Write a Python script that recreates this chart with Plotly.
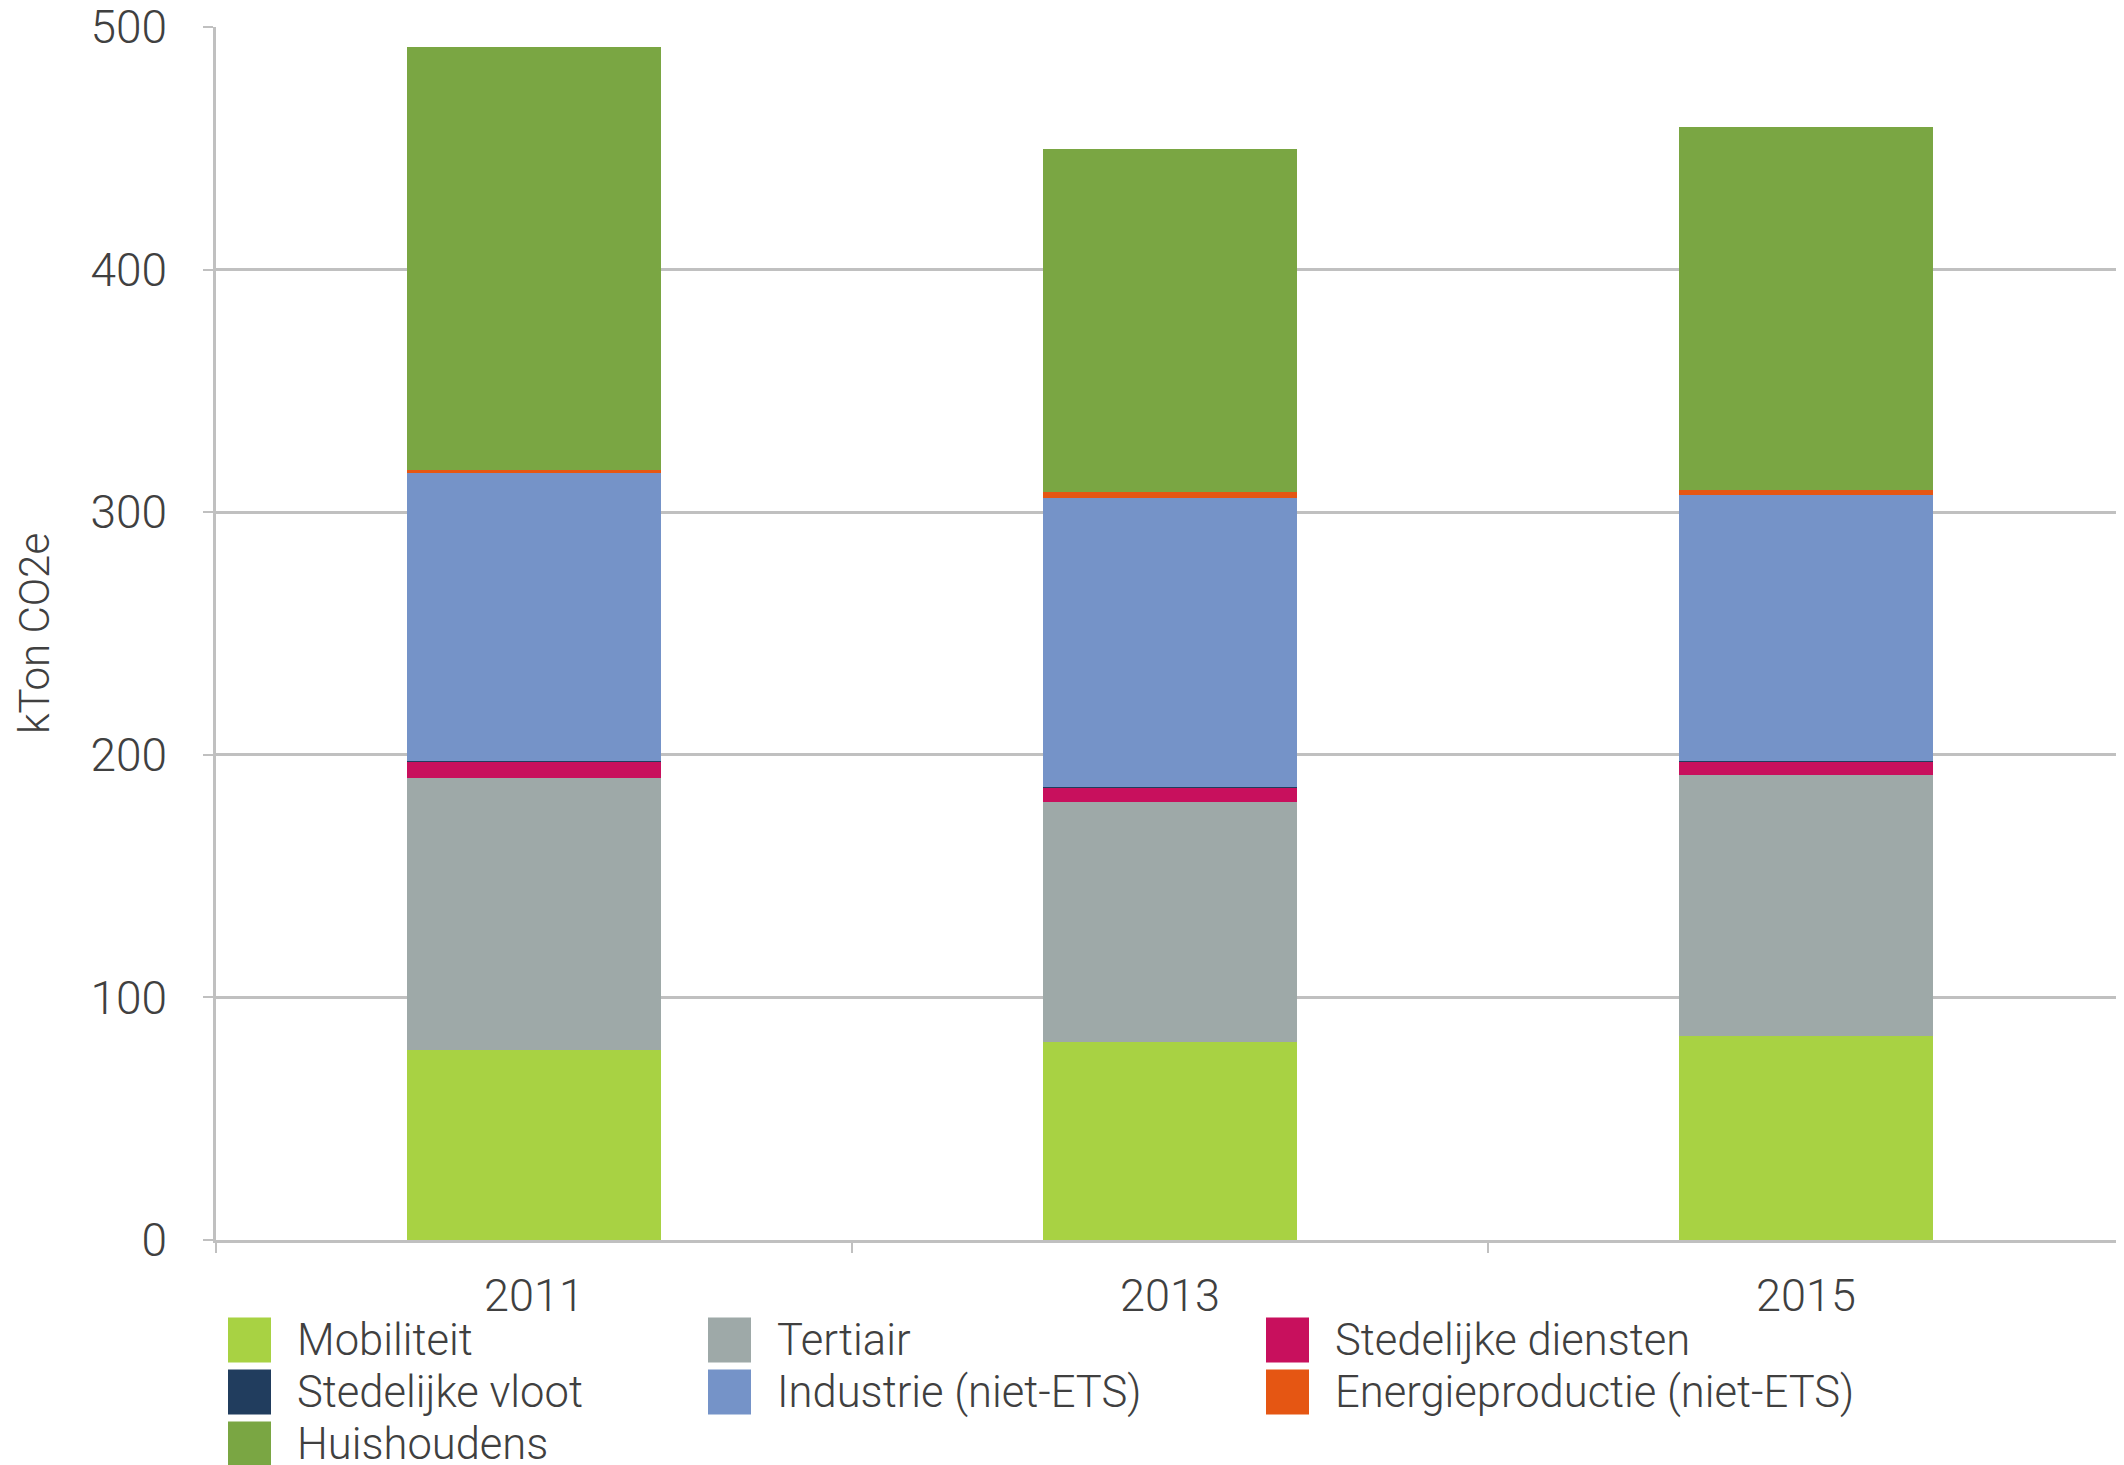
import plotly.graph_objects as go

years = ["2011", "2013", "2015"]

series_names = [
    "Mobiliteit",
    "Tertiair",
    "Stedelijke diensten",
    "Stedelijke vloot",
    "Industrie (niet-ETS)",
    "Energieproductie (niet-ETS)",
    "Huishoudens",
]

mobiliteit = [78.4, 81.7, 84.2]
tertiair = [112.2, 98.9, 107.6]
stedelijke_diensten = [6.6, 5.8, 5.3]
stedelijke_vloot = [0.3, 0.3, 0.3]
industrie = [118.8, 119.2, 109.6]
energieproductie = [1.1, 2.5, 2.2]
huishoudens = [174.5, 141.4, 149.7]

values = [mobiliteit, tertiair, stedelijke_diensten, stedelijke_vloot,
          industrie, energieproductie, huishoudens]

colors = ["#a8d243", "#9ea9a8", "#c8105d", "#213d5e",
          "#7593c8", "#e55613", "#7aa643"]

y_ticks = [0, 100, 200, 300, 400, 500]

OFF = 8  # page body margin
W, H = 2124 - OFF, 1465 - OFF
PLOT_L, PLOT_T, PLOT_B = 216, 27, 1240  # real window pixels
L, R = PLOT_L - OFF, 0
T, B = PLOT_T - OFF, H - (PLOT_B - OFF)
FONT = "Roboto"
TXT = "#404040"
GRID = "#c0c0c0"

fig = go.Figure()
for name, vals, col in zip(series_names, values, colors):
    fig.add_trace(go.Bar(x=years, y=vals, name=name,
                         marker=dict(color=col, line=dict(width=0)),
                         showlegend=False))

# legend drawn manually (large swatches)
pw = W - L - R
ph = H - T - B
legend_order = [
    ("Mobiliteit", 0, 0), ("Tertiair", 1, 0), ("Stedelijke diensten", 2, 0),
    ("Stedelijke vloot", 0, 1), ("Industrie (niet-ETS)", 1, 1),
    ("Energieproductie (niet-ETS)", 2, 1), ("Huishoudens", 0, 2),
]
col_sw_x = [228, 708, 1266]
row_cy = [1340, 1392, 1444]
sw_w, sw_h = 43, 45
shapes = []
annotations = []
for name, c, r in legend_order:
    col = colors[series_names.index(name)]
    x0 = (col_sw_x[c] - PLOT_L) / pw
    x1 = (col_sw_x[c] + sw_w - PLOT_L) / pw
    yc = (PLOT_B - row_cy[r]) / ph
    hh = sw_h / 2 / ph
    shapes.append(dict(type="rect", xref="paper", yref="paper",
                       x0=x0, x1=x1, y0=yc - hh, y1=yc + hh,
                       fillcolor=col, line=dict(width=0)))
    annotations.append(dict(xref="paper", yref="paper",
                            x=(col_sw_x[c] + sw_w + 24 - PLOT_L) / pw, y=yc,
                            xanchor="left", yanchor="middle", showarrow=False,
                            text=name, font=dict(size=43.5, color=TXT, family=FONT, weight=300)))

fig.update_layout(
    width=W, height=H,
    margin=dict(l=L, r=R, t=T, b=B, pad=0, autoexpand=False),
    barmode="stack", bargap=0.6,
    plot_bgcolor="white", paper_bgcolor="white",
    font=dict(family=FONT, size=42, color=TXT, weight=300),
    shapes=shapes, annotations=annotations,
    xaxis=dict(
        type="category", showgrid=False, showline=True, linecolor=GRID, linewidth=2.5,
        ticks="outside", tickson="boundaries", ticklen=10, tickcolor=GRID, tickwidth=2,
        tickfont=dict(size=45, color=TXT, family=FONT, weight=300),
        ticklabelstandoff=14, range=[-0.5, 2.5], automargin=False,
    ),
    yaxis=dict(
        range=[0, 500], tickvals=y_ticks, ticktext=[str(v) for v in y_ticks],
        showgrid=True, gridcolor=GRID, gridwidth=2.5, zeroline=False,
        showline=True, linecolor=GRID, linewidth=2.5,
        ticks="outside", ticklen=10, tickcolor=GRID, tickwidth=2,
        tickfont=dict(size=46, color=TXT, family=FONT, weight=300),
        ticklabelstandoff=27, ticklabeloverflow="allow", automargin=False,
        title=dict(text="kTon CO2e", font=dict(size=42, color=TXT, family=FONT, weight=300), standoff=28),
    ),
)

fig.write_html("out.html")
